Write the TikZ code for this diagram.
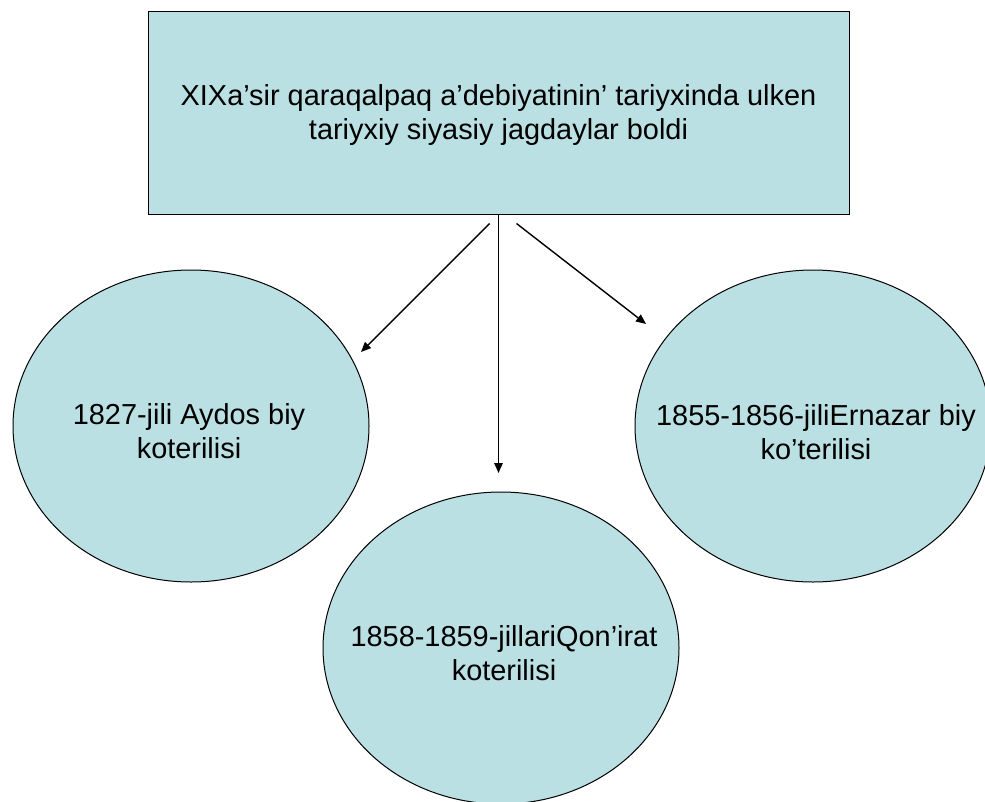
\documentclass[tikz,border=0pt]{standalone}
\usepackage{fontspec}
\setmainfont{Liberation Sans}
\usetikzlibrary{shapes.geometric,arrows.meta}
\definecolor{boxfill}{RGB}{187,224,227}
\tikzset{
  shapebox/.style={draw=black,line width=1pt,fill=boxfill},
  topbox/.style={shapebox,rectangle,minimum width=701pt,minimum height=203pt,inner sep=0pt},
  oval/.style={shapebox,ellipse,minimum width=356pt,minimum height=312pt,inner sep=0pt},
  ovaltext/.style={align=center,font=\fontsize{28.9}{34}\selectfont,inner sep=0pt},
  arr/.style={line width=1.4pt,-{Triangle[length=10pt,width=8.5pt]}}
}
\begin{document}
\begin{tikzpicture}[x=1pt,y=-1pt]
\useasboundingbox (0,0) rectangle (985,801);
\node[topbox] (r) at (498.5,112.5) {};
\node[ovaltext] (rt) at (498.5,115.5) {XIXa’sir qaraqalpaq a’debiyatinin’ tariyxinda ulken\\tariyxiy siyasiy jagdaylar boldi};
\node[oval] (el) at (191,426) {};
\node[ovaltext] (tl) at (189,431) {1827-jili Aydos biy\\koterilisi};
\node[oval] (em) at (501,648) {};
\node[ovaltext] (tmid) at (504,653) {1858-1859-jillariQon’irat\\koterilisi};
\node[oval] (er) at (813,426) {};
\node[ovaltext] (tr) at (816,432) {1855-1856-jiliErnazar biy\\ko’terilisi};
\coordinate (al) at (361,352);
\coordinate (ar) at (646,324);
\coordinate (am) at (498.5,473);
\draw[arr] ([shift={(-9,9)}]r.south) -- (al);
\draw[arr] (r.south) -- (am);
\draw[arr] ([shift={(18,9)}]r.south) -- (ar);
\end{tikzpicture}
\end{document}
